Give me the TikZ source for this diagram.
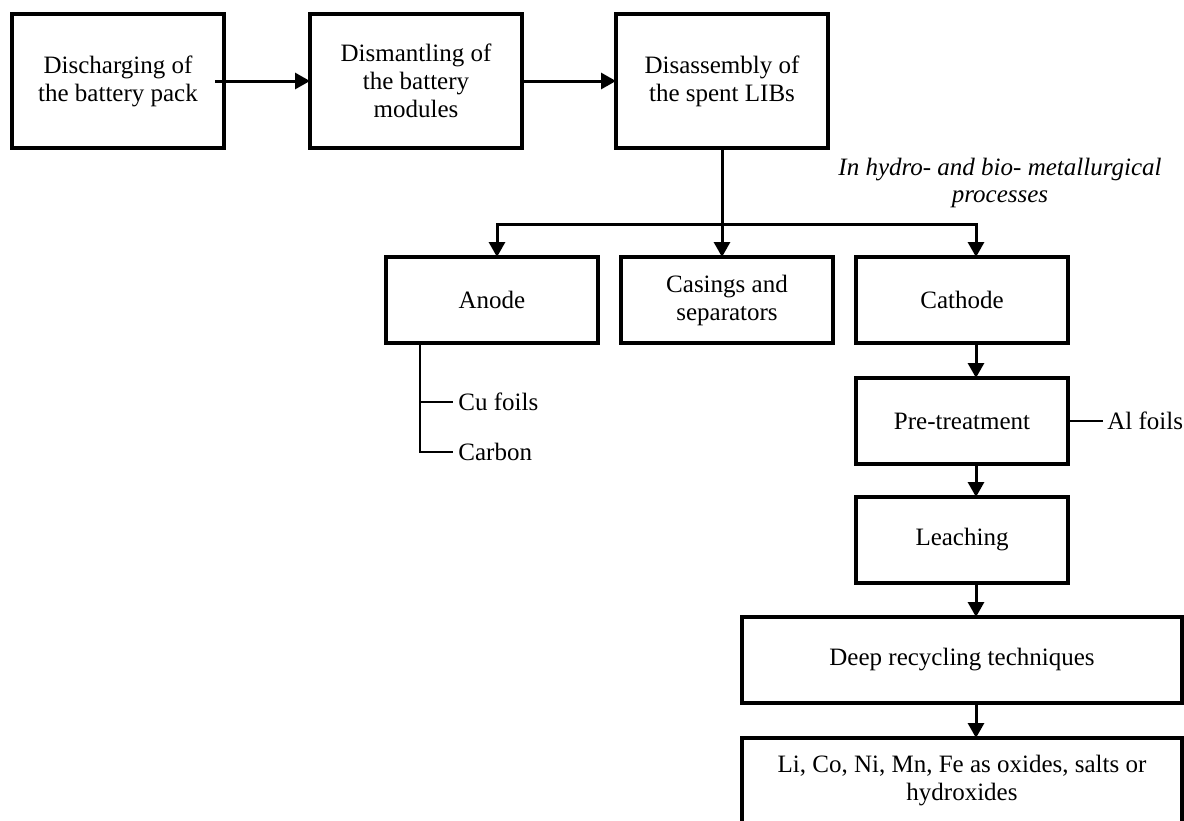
\documentclass[tikz,border=0pt]{standalone}
\usepackage{fontspec}
\setmainfont{Liberation Serif}
\usetikzlibrary{arrows.meta,positioning,calc}

\begin{document}
\begin{tikzpicture}[x=0.5pt,y=-0.5pt,every node/.style={font=\fontsize{12.5}{14}\selectfont,align=center},stage/.style={draw,line width=1.6pt,outer sep=0pt,inner sep=2pt,minimum width=106pt,minimum height=#1},stage/.default=43pt,flow/.style={-{Triangle[length=7.5pt,width=8pt]},line width=1.5pt},tap/.style={line width=0.6pt},side/.style={anchor=west,inner xsep=2.5pt}]
\useasboundingbox (0,0) rectangle (1184,820);
\node[stage=67pt] (dis) at (118,81) {Discharging of\\the battery pack};
\node[stage=67pt,right=43pt of dis] (dsm) {Dismantling of\\the battery\\modules};
\node[stage=67pt,right=47pt of dsm] (lib) {Disassembly of\\the spent LIBs};
\node[stage] (ano) at (492,300) {Anode};
\node[stage,right=11.5pt of ano] (cas) {Casings and\\separators};
\node[stage,right=11.5pt of cas] (cat) {Cathode};
\node[stage,below=17.5pt of cat] (pre) {Pre-treatment};
\node[stage,below=16.5pt of pre] (lea) {Leaching};
\node[stage,minimum width=220pt,below=17pt of lea] (deep) {Deep recycling techniques};
\node[stage,minimum width=220pt,below=17.5pt of deep] (met) {Li, Co, Ni, Mn, Fe as oxides, salts or\\hydroxides};
\node[font=\fontsize{12.5}{13.5}\selectfont\itshape] (proc) at (1000,183) {In hydro- and bio- metallurgical\\processes};
\node[side] (cu) at (453,402) {Cu foils};
\node[side] (car) at (453,452) {Carbon};
\node[side,inner xsep=2pt] (al) at (1103,421) {Al foils};
\coordinate (bus) at (722,224);
\coordinate (anox) at (497,0);
\coordinate (colx) at (976,0);
\coordinate (tapx) at (420,0);
\draw[flow] ($(dis.east)+(-9,0)$) -- (dsm.west);
\draw[flow] (dsm.east) -- (lib.west);
\draw[flow] (lib.south) -- (lib.south |- cas.north);
\draw[flow] (lib.south |- bus) -| (anox |- ano.north);
\draw[flow] (lib.south |- bus) -| (colx |- cat.north);
\draw[flow] (cat.south -| colx) -- (pre.north -| colx);
\draw[flow] (pre.south -| colx) -- (lea.north -| colx);
\draw[flow] (lea.south -| colx) -- (deep.north -| colx);
\draw[flow] (deep.south -| colx) -- (met.north -| colx);
\draw[tap] (ano.south -| tapx) |- (car.west);
\draw[tap] (tapx |- cu.west) -- (cu.west);
\draw[tap] (pre.east) -- (al.west);
\end{tikzpicture}
\end{document}
